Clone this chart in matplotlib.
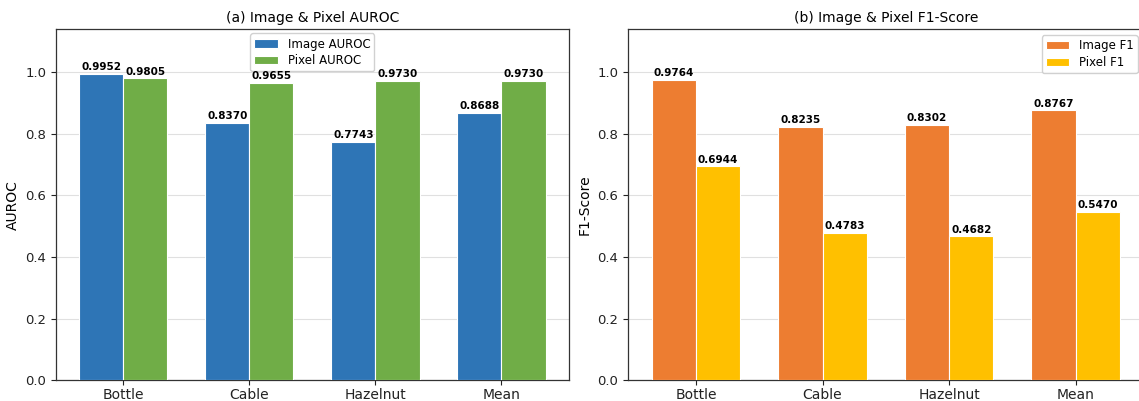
import matplotlib
matplotlib.use("Agg")
import matplotlib.pyplot as plt
import numpy as np

categories = ["Bottle", "Cable", "Hazelnut", "Mean"]
image_auroc = [0.9952, 0.8370, 0.7743, 0.8688]
pixel_auroc = [0.9805, 0.9655, 0.9730, 0.9730]
image_f1 = [0.9764, 0.8235, 0.8302, 0.8767]
pixel_f1 = [0.6944, 0.4783, 0.4682, 0.5470]
yticks = [0.0, 0.2, 0.4, 0.6, 0.8, 1.0]

c_blue = "#2e75b6"
c_green = "#70ad47"
c_orange = "#ed7d31"
c_yellow = "#ffc000"

fig = plt.figure(figsize=(11.39, 4.01), dpi=100)
ax1 = fig.add_axes([0.049, 0.052, 0.4505, 0.875])
ax2 = fig.add_axes([0.5515, 0.052, 0.4525, 0.875])

x = np.arange(len(categories))
w = 0.35

def panel(ax, a, b, ca, cb, la, lb, title, ylabel, loc, pad):
    r1 = ax.bar(x - w / 2, a, w, color=ca, edgecolor="white", linewidth=0.8, label=la, zorder=3)
    r2 = ax.bar(x + w / 2, b, w, color=cb, edgecolor="white", linewidth=0.8, label=lb, zorder=3)
    for rects, vals in ((r1, a), (r2, b)):
        for r, v in zip(rects, vals):
            ax.text(r.get_x() + r.get_width() / 2, v + 0.005, f"{v:.4f}",
                    ha="center", va="bottom", fontsize=7.5, fontweight="bold", zorder=6)
    ax.set_ylim(0, 1.14)
    ax.set_yticks(yticks)
    ax.set_xticks(x)
    ax.set_xticklabels(categories, fontsize=10)
    ax.tick_params(axis="y", labelsize=9.5, colors="#222222")
    ax.tick_params(axis="x", pad=2, colors="#222222")
    ax.set_title(title, fontsize=10, pad=5)
    ax.set_ylabel(ylabel, fontsize=10)
    ax.grid(axis="y", color="#e0e0e0", linewidth=0.8, zorder=0)
    ax.set_axisbelow(True)
    for s in ax.spines.values():
        s.set_color("#333333")
        s.set_linewidth(0.9)
    leg = ax.legend(loc=loc, fontsize=8.5, framealpha=0.9, edgecolor="#cccccc",
                    handlelength=2.0, labelspacing=0.3, borderpad=0.35, borderaxespad=pad)
    leg.set_zorder(5)

panel(ax1, image_auroc, pixel_auroc, c_blue, c_green, "Image AUROC", "Pixel AUROC",
      "(a) Image & Pixel AUROC", "AUROC", "upper center", 0.35)
panel(ax2, image_f1, pixel_f1, c_orange, c_yellow, "Image F1", "Pixel F1",
      "(b) Image & Pixel F1-Score", "F1-Score", "upper right", 0.5)

fig.savefig("out.png", dpi=100)
